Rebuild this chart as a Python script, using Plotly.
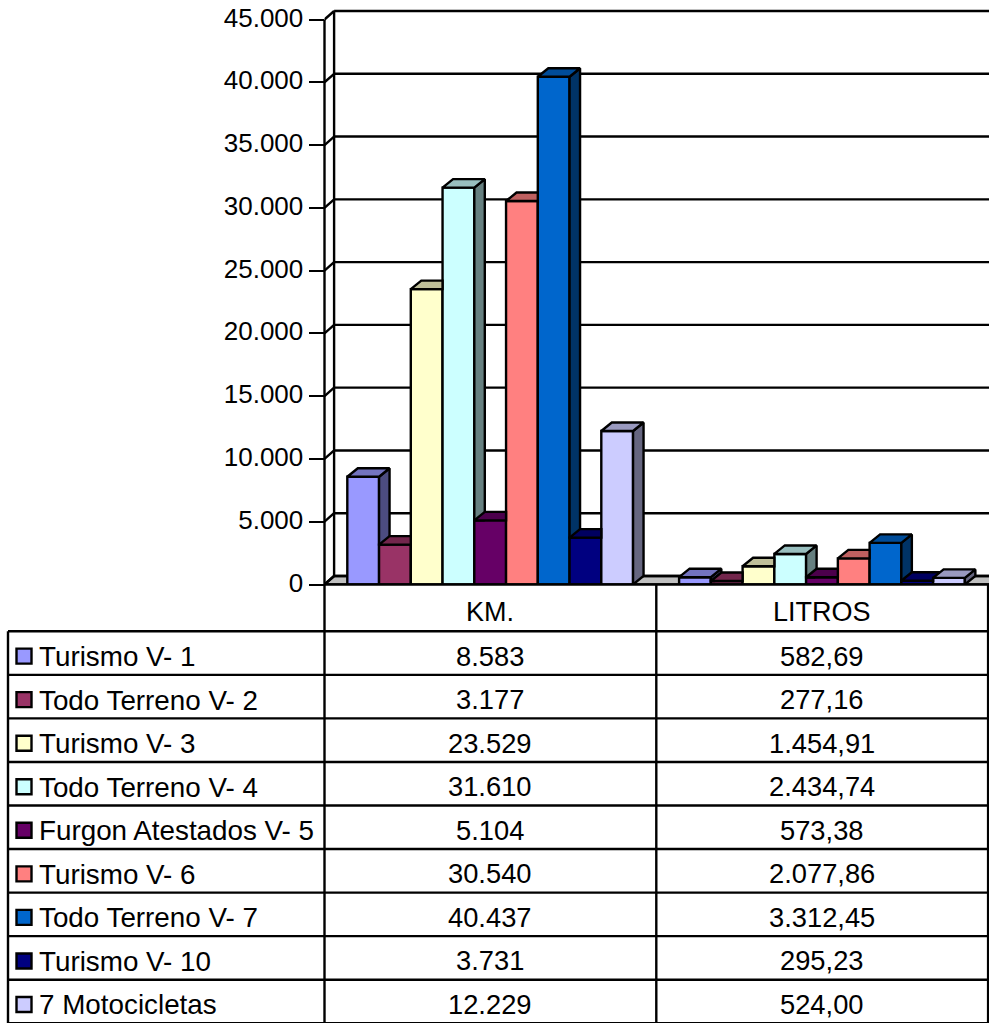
import plotly.graph_objects as go

# ---- data ----
groups = ["KM.", "LITROS"]
series = ["Turismo V- 1", "Todo Terreno V- 2", "Turismo V- 3", "Todo Terreno V- 4",
          "Furgon Atestados V- 5", "Turismo V- 6", "Todo Terreno V- 7", "Turismo V- 10",
          "7 Motocicletas"]
km = [8583, 3177, 23529, 31610, 5104, 30540, 40437, 3731, 12229]
litros = [582.69, 277.16, 1454.91, 2434.74, 573.38, 2077.86, 3312.45, 295.23, 524.00]
colors = ["#9999FF", "#993366", "#FFFFCC", "#CCFFFF", "#660066",
          "#FF8080", "#0066CC", "#000080", "#CCCCFF"]
tick_vals = [0, 5000, 10000, 15000, 20000, 25000, 30000, 35000, 40000, 45000]
tick_text = ["0", "5.000", "10.000", "15.000", "20.000", "25.000", "30.000", "35.000", "40.000", "45.000"]

# ---- geometry (pixels of the 989x1023 page) ----
W, H = 989, 1023
X0, GROUP_W = 324.5, 331.8
Y0, PX_PER_UNIT = 584.5, 565 / 45000
BAR_PX, GAP_PX = 31.75, 22.8
DX_PX, DY_PX = 10.5, 8.5
WALL_DX_PX = 9.6
LW = 2.4
INK = "#000000"

dx = DX_PX / GROUP_W
wall_dx = WALL_DX_PX / GROUP_W
dy = DY_PX / PX_PER_UNIT
bw = BAR_PX / GROUP_W
gap = GAP_PX / GROUP_W


def shade(hex_color, k):
    r, g, b = (int(hex_color[i:i + 2], 16) for i in (1, 3, 5))
    return f"rgb({round(r * k)},{round(g * k)},{round(b * k)})"


def clip_above(poly, limit):
    out = []
    for i, (x1, y1) in enumerate(poly):
        x2, y2 = poly[(i + 1) % len(poly)]
        if y1 >= limit:
            out.append((x1, y1))
        if (y1 >= limit) != (y2 >= limit):
            t = (limit - y1) / (y2 - y1)
            out.append((x1 + t * (x2 - x1), limit))
    return out


def side_face(right, v, nxt):
    poly = [(right, 0), (right + dx, dy), (right + dx, v + dy), (right, v)]
    return [] if nxt >= v + dy else clip_above(poly, nxt)


def top_face(left, right, v, nxt):
    if nxt <= v:
        return [(left, v), (right, v), (right + dx, v + dy), (left + dx, v + dy)]
    if nxt >= v + dy:
        return [(left, v), (right, v), (right, v + dy), (left + dx, v + dy)]
    t = (nxt - v) / dy
    return [(left, v), (right, v), (right, nxt), (right + dx * t, nxt),
            (right + dx, v + dy), (left + dx, v + dy)]


def trace_xy(polys):
    xs, ys = [], []
    for p in polys:
        if p:
            xs += [q[0] for q in p] + [p[0][0], None]
            ys += [q[1] for q in p] + [p[0][1], None]
    return xs, ys


fig = go.Figure()
group_vals = [km, litros]

for i, name in enumerate(series):
    centers = [g + gap + (i + 0.5) * bw for g in range(len(groups))]
    vals = [gv[i] for gv in group_vals]
    fig.add_trace(go.Bar(x=centers, y=vals, width=bw, name=name, showlegend=False,
                         marker=dict(color=colors[i], line=dict(color=INK, width=LW)),
                         hovertemplate=name + ": %{y}<extra></extra>"))

for i, name in enumerate(series):
    sides, tops = [], []
    for g, gv in enumerate(group_vals):
        left = g + gap + i * bw
        right = left + bw
        nxt = gv[i + 1] if i + 1 < len(series) else -1
        sides.append(side_face(right, gv[i], nxt))
        tops.append(top_face(left, right, gv[i], nxt))
    for polys, k in ((sides, 0.5), (tops, 0.75)):
        xs, ys = trace_xy(polys)
        fig.add_trace(go.Scatter(x=xs, y=ys, mode="lines", fill="toself", fillcolor=shade(colors[i], k),
                                 line=dict(color=INK, width=LW), showlegend=False, hoverinfo="skip"))

# ---- chart walls ----
x_max = (W - X0) / GROUP_W
shapes = [dict(type="path", layer="below", xref="x", yref="y", fillcolor="#C0C0C0",
               line=dict(color=INK, width=LW),
               path=f"M 0 0 L {wall_dx} {dy} L {x_max + 1} {dy} L {x_max + 1} 0 Z")]
for v in tick_vals:
    shapes.append(dict(type="line", layer="below", xref="x", yref="y", x0=wall_dx, x1=x_max + 1,
                       y0=v + dy, y1=v + dy, line=dict(color=INK, width=LW)))
    shapes.append(dict(type="line", layer="below", xref="x", yref="y", x0=0, x1=wall_dx,
                       y0=v, y1=v + dy, line=dict(color=INK, width=LW)))
shapes.append(dict(type="line", layer="below", xref="x", yref="y", x0=wall_dx, x1=wall_dx,
                   y0=dy, y1=tick_vals[-1] + dy, line=dict(color=INK, width=LW)))


def px(x):
    return x / W


def py(y):
    return 1 - y / H


def pline(x0, y0, x1, y1):
    shapes.append(dict(type="line", layer="above", xref="paper", yref="paper",
                       x0=px(x0), x1=px(x1), y0=py(y0), y1=py(y1),
                       line=dict(color=INK, width=LW)))


# ---- data table ----
FONT = "Liberation Sans, Arial, sans-serif"
ROW0, ROW_H = 631.3, 43.55
COLS = [X0, X0 + GROUP_W, X0 + 2 * GROUP_W]
LEFT = 8
n = len(series)

pline(X0, 19.5, X0, H)                # value axis + first table column
pline(COLS[1], Y0, COLS[1], H)
pline(COLS[2], Y0, COLS[2], H)
pline(LEFT, ROW0, LEFT, H)
pline(X0, Y0, W, Y0)
for r in range(n + 1):
    pline(LEFT, ROW0 + r * ROW_H, W, ROW0 + r * ROW_H)

annotations = []


def text(s, x, y, anchor, size):
    annotations.append(dict(text=s, x=px(x), y=py(y), xref="paper", yref="paper", showarrow=False,
                            xanchor=anchor, yanchor="middle", align=anchor,
                            font=dict(family=FONT, size=size, color="#000000")))


def fmt_km(v):
    return f"{v:,.0f}".replace(",", ".")


def fmt_l(v):
    return f"{v:,.2f}".replace(",", "#").replace(".", ",").replace("#", ".")


for g, label in enumerate(groups):
    text(label, COLS[g] + GROUP_W / 2, 612, "center", 27)

for i, name in enumerate(series):
    yc = ROW0 + (i + 0.5) * ROW_H + 3
    text(name, 37, yc + 0.5, "left", 27.8)
    text(fmt_km(km[i]), COLS[0] + GROUP_W / 2, yc, "center", 27.3)
    text(fmt_l(litros[i]), COLS[1] + GROUP_W / 2, yc, "center", 27.3)
    shapes.append(dict(type="rect", layer="above", xref="paper", yref="paper",
                       x0=px(16.5), x1=px(31.5), y0=py(yc - 7.5), y1=py(yc + 7.5),
                       fillcolor=colors[i], line=dict(color=INK, width=LW)))

fig.update_layout(
    width=W, height=H, autosize=False,
    margin=dict(l=0, r=0, t=0, b=0, pad=0, autoexpand=False),
    paper_bgcolor="#FFFFFF", plot_bgcolor="#FFFFFF",
    showlegend=False, barmode="overlay",
    shapes=shapes, annotations=annotations,
    font=dict(family=FONT, size=27, color="#000000"),
    xaxis=dict(domain=[X0 / W, 1], range=[0, x_max], visible=False, fixedrange=True),
    yaxis=dict(domain=[1 - Y0 / H, 1], range=[0, Y0 / PX_PER_UNIT], showgrid=False, zeroline=False,
               showline=False, tickmode="array", tickvals=tick_vals, ticktext=tick_text,
               ticks="outside", ticklen=15, tickwidth=LW, tickcolor=INK, ticklabelshift=-2,
               tickfont=dict(family=FONT, size=26, color="#000000"), fixedrange=True,
               anchor="x"),
)

fig.write_html("out.html", config=dict(displayModeBar=False, responsive=False),
               post_script="document.body.style.margin='0';document.documentElement.style.overflow='hidden';")
